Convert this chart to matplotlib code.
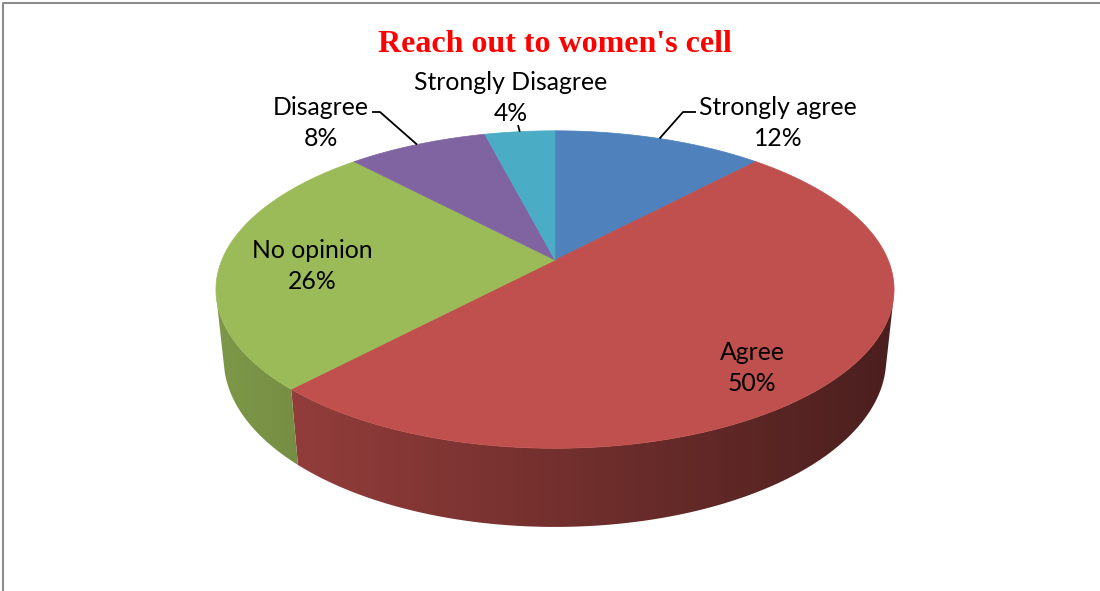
import numpy as np
import matplotlib
matplotlib.use("Agg")
import matplotlib.pyplot as plt
from matplotlib.patches import Polygon
from matplotlib.colors import to_rgb

# ==========================================
#  DATA
# ==========================================
labels = ["Strongly agree", "Agree", "No opinion", "Disagree", "Strongly Disagree"]
values = [12, 50, 26, 8, 4]
colors = ["#4F81BD", "#C0504D", "#9BBB59", "#8064A2", "#4BACC6"]
title = "Reach out to women's cell"

# ==========================================
#  LAYOUT (pixel space)
# ==========================================
W, H = 1100, 591
cx, cy = 555, 260          # pie centre on screen
phi = np.arcsin(0.46)      # camera elevation
D = 4.77                   # camera distance (pie radius = 1)
S = 1589                   # projection scale
depth = 0.237              # pie thickness

# label block centres + leader (elbow, end) if outside
label_pos = {
    "Strongly agree": ((778, 123), [(683, 112), (696, 112)]),
    "Agree": ((752, 368), None),
    "No opinion": ((312, 266), None),
    "Disagree": ((321, 123), [(380, 112), (372, 112)]),
    "Strongly Disagree": ((511, 98), [(518, 125)]),
}
font = ["Lato", "DejaVu Sans"]
fsize = 17.8


def project(x, y, z):
    d = D + y * np.cos(phi) - z * np.sin(phi)
    sx = x / d
    sy = (y * np.sin(phi) + z * np.cos(phi)) / d
    return cx + S * sx, cy - S * sy


def edge_point(theta, z=0.0):
    # theta: clockwise from the far side (12 o'clock)
    return project(np.sin(theta), np.cos(theta), z)


fig = plt.figure(figsize=(W / 100, H / 100), dpi=100)
ax = fig.add_axes([0, 0, 1, 1])
ax.set_xlim(0, W)
ax.set_ylim(H, 0)
ax.axis("off")

fracs = np.array(values, dtype=float) / sum(values)
starts = np.concatenate([[0], np.cumsum(fracs)[:-1]]) * 2 * np.pi
ends = np.cumsum(fracs) * 2 * np.pi

# ---- side walls (only the part facing the camera), horizontal gradient
vis = np.arccos(-1.0 / (D * np.cos(phi)))   # visible wall: vis .. 2pi - vis
gx = np.linspace(0, W, 600)
shade = np.clip(0.81 - 0.42 * (gx - 217) / (893 - 217), 0.35, 0.85)
for a0, a1, col in zip(starts, ends, colors):
    lo, hi = max(a0, vis), min(a1, 2 * np.pi - vis)
    if hi <= lo:
        continue
    th = np.linspace(lo, hi, 200)
    tx, ty = edge_point(th, 0)
    bx, by = edge_point(th[::-1], -depth)
    poly = Polygon(np.column_stack([np.r_[tx, bx], np.r_[ty, by]]),
                   closed=True, facecolor="none", edgecolor="none")
    ax.add_patch(poly)
    base = np.array(to_rgb(col))
    img = np.clip(shade[None, :, None] * base[None, None, :], 0, 1)
    im = ax.imshow(img, extent=(0, W, H, 0), aspect="auto", interpolation="bilinear")
    im.set_clip_path(poly)

# ---- top faces
for a0, a1, col in zip(starts, ends, colors):
    th = np.linspace(a0, a1, 200)
    xs, ys = edge_point(th, 0)
    px = np.concatenate([[cx], xs])
    py = np.concatenate([[cy], ys])
    ax.fill(px, py, facecolor=col, edgecolor=col, linewidth=0.5)

# ---- labels
for lab, val, a0, a1 in zip(labels, values, starts, ends):
    (tx, ty), leader = label_pos[lab]
    ax.text(tx, ty, f"{lab}\n{val}%", ha="center", va="center", fontsize=fsize,
            family=font, linespacing=1.45, color="black")
    if leader:
        sx, sy = edge_point(0.5 * (a0 + a1), 0)
        pts = [(sx, sy)] + leader
        ax.plot([p[0] for p in pts], [p[1] for p in pts], color="black", lw=1.3,
                solid_capstyle="butt")

# ---- title
ax.text(cx, 52, title, ha="center", va="baseline", fontsize=23, fontweight="bold",
        family="Liberation Serif", color="red")

# ---- chart border
ax.plot([3, 3, W], [H, 3, 3], color="#8c8c8c", lw=1.5)

ax.set_xlim(0, W)
ax.set_ylim(H, 0)
fig.savefig("out.png", dpi=100)
